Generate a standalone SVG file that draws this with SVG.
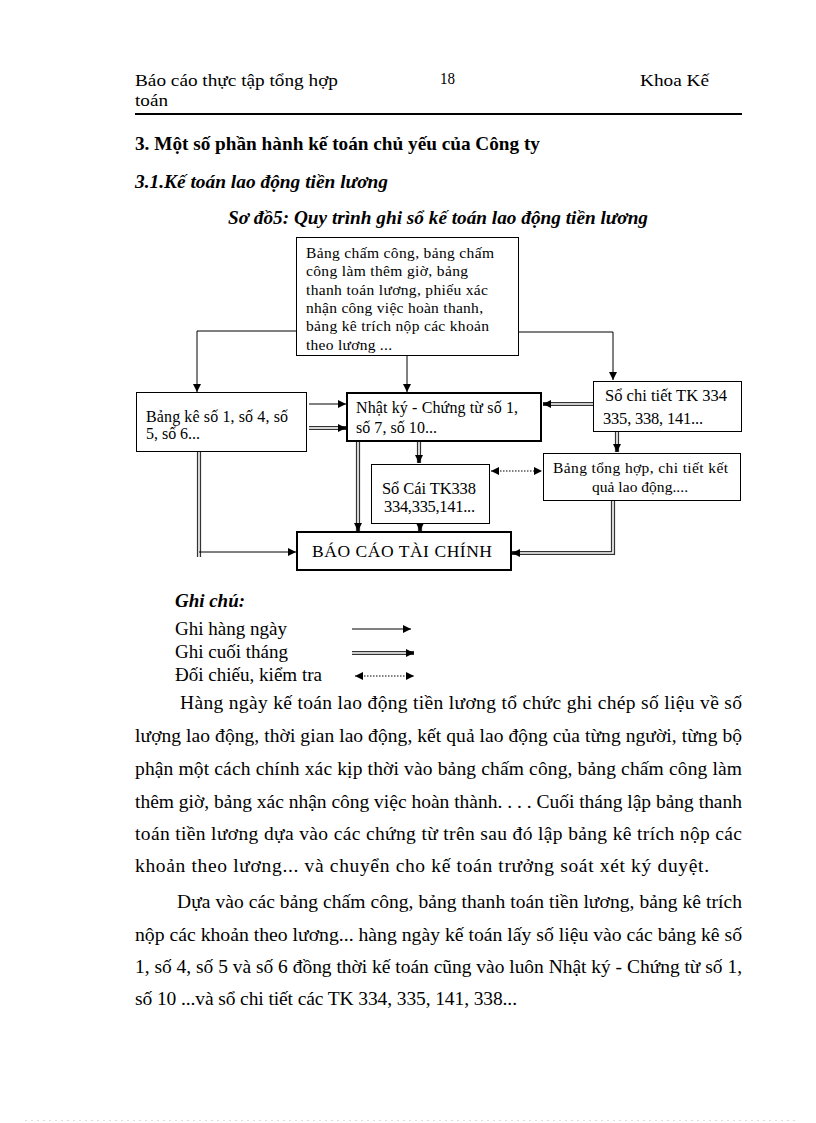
<svg xmlns="http://www.w3.org/2000/svg" width="816" height="1123" viewBox="0 0 816 1123">
<defs>
<style>
text{font-family:"Liberation Serif","Times New Roman",serif;fill:#000}
.hd{font-size:17.5px}
.bd{font-size:19.5px}
.b{font-weight:bold}
.bi{font-weight:bold;font-style:italic}
.box{fill:#fff;stroke:#000;stroke-width:1}
.tbox{fill:#fff;stroke:#000;stroke-width:2}
.t14{font-size:15.5px}
.t15{font-size:16px}
.t16{font-size:16.5px}
.s{fill:none;stroke:#000;stroke-width:1}
.dO{fill:none;stroke:#333;stroke-width:4.2}
.dI{fill:none;stroke:#fff;stroke-width:1.6}
.dot{fill:none;stroke:#000;stroke-width:1;stroke-dasharray:1.5,1.5}
</style>
<marker id="ah" viewBox="0 0 10 10" refX="10" refY="5" markerWidth="9" markerHeight="8" markerUnits="userSpaceOnUse" orient="auto"><path d="M0,0 L10,5 L0,10 z" fill="#000"/></marker>
<marker id="ah2" viewBox="0 0 10 10" refX="10" refY="5" markerWidth="9" markerHeight="8" markerUnits="userSpaceOnUse" orient="auto-start-reverse"><path d="M0,0 L10,5 L0,10 z" fill="#000"/></marker>
</defs>
<rect width="816" height="1123" fill="#fff"/>

<g id="header">
<text class="hd" x="135" y="86" textLength="203" lengthAdjust="spacingAndGlyphs">Báo cáo thực tập tổng hợp</text>
<text class="hd" x="135" y="106" textLength="33" lengthAdjust="spacingAndGlyphs">toán</text>
<text class="hd" x="440" y="84" textLength="15" lengthAdjust="spacingAndGlyphs">18</text>
<text class="hd" x="640" y="86" textLength="69" lengthAdjust="spacingAndGlyphs">Khoa Kế</text>
<line x1="135" y1="114" x2="742" y2="114" stroke="#000" stroke-width="2"/>
</g>

<g id="headings">
<text class="bd b" x="135" y="150" textLength="405" lengthAdjust="spacingAndGlyphs">3. Một số phần hành kế toán chủ yếu của Công ty</text>
<text class="bd bi" x="135" y="188" textLength="253" lengthAdjust="spacingAndGlyphs">3.1.Kế toán lao động tiền lương</text>
<text class="bd bi" x="228" y="224" textLength="420" lengthAdjust="spacingAndGlyphs">Sơ đồ5: Quy trình  ghi sổ kế toán lao động tiền lương</text>
</g>

<g id="connectors">
<path class="s" d="M297,331 H197 V392" marker-end="url(#ah)"/>
<path class="s" d="M407,356 V392" marker-end="url(#ah)"/>
<path class="s" d="M518,332 H613 V380" marker-end="url(#ah)"/>
<path class="s" d="M309,404 H346" marker-end="url(#ah)"/>
<path class="dO" d="M309,428 H346"/><path class="dI" d="M309,428 H338"/><path class="s" d="M338,428 H346" marker-end="url(#ah)"/>
<path class="dO" d="M593,404 H543"/><path class="dI" d="M593,404 H551"/><path class="s" d="M551,404 H543" marker-end="url(#ah)"/>
<path class="dO" d="M617,432 V452"/><path class="dI" d="M617,432 V444"/><path class="s" d="M617,444 V452" marker-end="url(#ah)"/>
<path class="dO" d="M419,442 V463"/><path class="dI" d="M419,442 V455"/><path class="s" d="M419,455 V463" marker-end="url(#ah)"/>
<path class="dO" d="M358,442 V531"/><path class="dI" d="M358,442 V523"/><path class="s" d="M358,523 V531" marker-end="url(#ah)"/>
<path class="dO" d="M420,524 V531"/><path class="dI" d="M420,524 V526"/><path class="s" d="M420,524 V531" marker-end="url(#ah)"/>
<path class="dot" d="M491,471 H542" marker-start="url(#ah2)" marker-end="url(#ah2)"/>
<path class="dO" d="M199,452 V557"/><path class="dI" d="M199,452 V557"/>
<path class="s" d="M199,552 H296" marker-end="url(#ah)"/>
<path class="dO" d="M613,501 V553 H512"/><path class="dI" d="M613,501 V553 H520"/><path class="s" d="M520,553 H512" marker-end="url(#ah)"/>
</g>

<g id="node-chungtu">
<rect class="box" x="296.5" y="237.5" width="222" height="118"/>
<text class="t14" x="306" y="258" textLength="188" lengthAdjust="spacing">Bảng chấm công, bảng chấm</text>
<text class="t14" x="306" y="276.3" textLength="162" lengthAdjust="spacing">công làm thêm giờ, bảng</text>
<text class="t14" x="306" y="294.6" textLength="182" lengthAdjust="spacing">thanh toán lương, phiếu xác</text>
<text class="t14" x="306" y="312.9" textLength="177" lengthAdjust="spacing">nhận công việc hoàn thanh,</text>
<text class="t14" x="306" y="331.2" textLength="183" lengthAdjust="spacing">bảng kê trích nộp các khoản</text>
<text class="t14" x="306" y="349.5" textLength="86" lengthAdjust="spacing">theo lương ...</text>
</g>

<g id="node-bangke">
<rect class="box" x="136.5" y="392.5" width="170" height="59"/>
<text class="t15" x="146" y="421.5" textLength="142" lengthAdjust="spacing">Bảng kê số 1, số 4, số</text>
<text class="t15" x="146" y="439" textLength="54" lengthAdjust="spacing">5, số 6...</text>
</g>

<g id="node-nhatky">
<rect class="tbox" x="347" y="393" width="194" height="48"/>
<text class="t15" x="356" y="413" textLength="162" lengthAdjust="spacing">Nhật ký - Chứng từ số 1,</text>
<text class="t15" x="356" y="433" textLength="81" lengthAdjust="spacing">số 7, số 10...</text>
</g>

<g id="node-sochitiet">
<rect class="box" x="593.5" y="381.5" width="148" height="50"/>
<text class="t16" x="605" y="401" textLength="122" lengthAdjust="spacing">Sổ chi tiết TK 334</text>
<text class="t16" x="603" y="424" textLength="100" lengthAdjust="spacing">335, 338, 141...</text>
</g>

<g id="node-socai">
<rect class="box" x="371.5" y="464.5" width="118" height="59"/>
<text class="t16" x="382" y="494" textLength="94" lengthAdjust="spacing">Sổ Cái TK338</text>
<text class="t16" x="384" y="511.5" textLength="91" lengthAdjust="spacing">334,335,141...</text>
</g>

<g id="node-tonghop">
<rect class="box" x="543.5" y="453.5" width="197" height="47"/>
<text class="t14" x="553" y="473" textLength="175" lengthAdjust="spacing">Bảng tổng hợp, chi tiết kết</text>
<text class="t14" x="592" y="492" textLength="96" lengthAdjust="spacing">quả lao động....</text>
</g>

<g id="node-baocao">
<rect class="tbox" x="297" y="532" width="214" height="38"/>
<text x="312" y="557" font-size="17.5" textLength="180" lengthAdjust="spacing">BÁO CÁO TÀI CHÍNH</text>
</g>

<g id="legend">
<text class="bd bi" x="175" y="607" textLength="70" lengthAdjust="spacingAndGlyphs">Ghi chú:</text>
<text class="bd" x="175" y="635" textLength="112" lengthAdjust="spacingAndGlyphs">Ghi hàng ngày</text>
<text class="bd" x="175" y="658" textLength="113" lengthAdjust="spacingAndGlyphs">Ghi cuối tháng</text>
<text class="bd" x="175" y="681" textLength="147" lengthAdjust="spacingAndGlyphs">Đối chiếu, kiểm tra</text>
<path class="s" d="M352,629 H411" marker-end="url(#ah)"/>
<path class="dO" d="M352,653 H414"/><path class="dI" d="M352,653 H406"/><path class="s" d="M406,653 H414" marker-end="url(#ah)"/>
<path class="dot" d="M355,676 H414" marker-start="url(#ah2)" marker-end="url(#ah2)"/>
</g>

<g id="body">
<text class="bd" x="180" y="709" textLength="562" lengthAdjust="spacing">Hàng ngày kế toán lao động tiền lương tổ chức ghi chép số liệu về số</text>
<text class="bd" x="135" y="742" textLength="607" lengthAdjust="spacing">lượng lao động, thời gian lao động, kết quả lao động của từng người, từng bộ</text>
<text class="bd" x="135" y="775" textLength="607" lengthAdjust="spacing">phận một cách chính xác kịp thời vào bảng chấm công, bảng chấm công làm</text>
<text class="bd" x="135" y="808" textLength="607" lengthAdjust="spacingAndGlyphs">thêm giờ, bảng xác nhận công việc hoàn thành. . . . Cuối tháng lập bảng thanh</text>
<text class="bd" x="135" y="840" textLength="607" lengthAdjust="spacing">toán tiền lương dựa vào các chứng từ trên sau đó lập bảng kê trích nộp các</text>
<text class="bd" x="135" y="872" textLength="574" lengthAdjust="spacing">khoản theo lương... và chuyển cho kế toán trưởng soát xét ký duyệt.</text>
<text class="bd" x="177" y="908" textLength="565" lengthAdjust="spacing">Dựa vào các bảng chấm công, bảng thanh toán tiền lương, bảng kê trích</text>
<text class="bd" x="135" y="941" textLength="607" lengthAdjust="spacingAndGlyphs">nộp các khoản theo lương... hàng ngày kế toán lấy số liệu vào các bảng kê số</text>
<text class="bd" x="135" y="973" textLength="607" lengthAdjust="spacingAndGlyphs">1, số 4, số 5 và số 6 đồng thời kế toán cũng vào luôn Nhật ký - Chứng từ số 1,</text>
<text class="bd" x="135" y="1005" textLength="382" lengthAdjust="spacing">số 10 ...và sổ chi tiết các TK 334, 335, 141, 338...</text>
</g>

<line x1="25" y1="1120.5" x2="795" y2="1120.5" stroke="#ddd" stroke-width="1" stroke-dasharray="2,4"/>
</svg>
